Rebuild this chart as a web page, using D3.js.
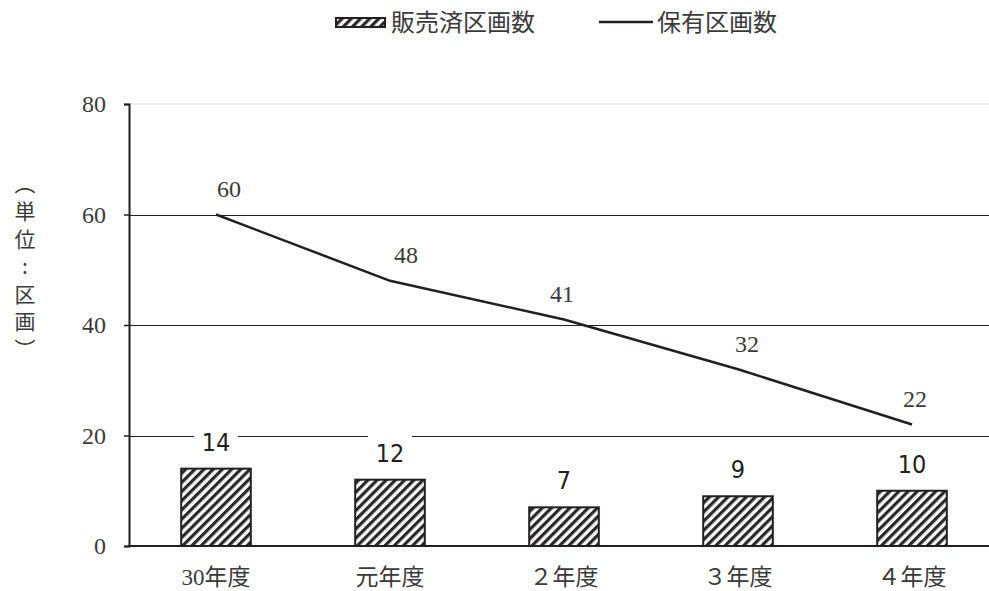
<!DOCTYPE html>
<html lang="ja">

<head>
    <meta charset="UTF-8">
    <title>販売済区画数と保有区画数</title>

    <script src="https://d3js.org/d3.v7.min.js"></script>

    <style>
        body {
            margin: 0;
            background: white;
        }
    </style>

</head>

<body>
    <svg width="989" height="591"></svg>

    <script>
        // data
        const years = ["30年度", "元年度", "２年度", "３年度", "４年度"];
        const soldPlots = [14, 12, 7, 9, 10];
        const heldPlots = [60, 48, 41, 32, 22];
        const yTicks = [0, 20, 40, 60, 80];

        const ink = "#231f20";
        const textCol = "#3a3a3a";
        const serif = "'Liberation Serif', 'Noto Sans CJK JP', serif";
        const gothic = "'Noto Sans CJK JP', sans-serif";
        const narrow = "'DejaVu Sans Condensed', 'Liberation Sans', sans-serif";
        // small nudges of the line labels as in the original
        const lineLabelDx = [13, 16, -2, 9, 3];

        const svg = d3.select("svg");
        const margin = { left: 129, top: 104 };
        const width = 989;

        const x = d3.scaleBand()
            .domain(years)
            .range([margin.left, 999])
            .paddingInner(0.6)
            .paddingOuter(0.3);

        const y = d3.scaleLinear()
            .domain([0, 80])
            .range([546, margin.top]);

        // hatch pattern
        const defs = svg.append("defs");
        const pat = defs.append("pattern")
            .attr("id", "hatch")
            .attr("patternUnits", "userSpaceOnUse")
            .attr("width", 6.5)
            .attr("height", 6.5)
            .attr("patternTransform", "rotate(45)");
        pat.append("rect").attr("width", 6.5).attr("height", 6.5).attr("fill", "white");
        pat.append("rect").attr("width", 3.2).attr("height", 6.5).attr("fill", "#2b2728");

        // gridlines
        svg.append("line")
            .attr("x1", margin.left).attr("x2", width)
            .attr("y1", y(80)).attr("y2", y(80))
            .attr("stroke", "#ddd").attr("stroke-width", 1);

        svg.append("g")
            .selectAll("line")
            .data([20, 40, 60])
            .join("line")
            .attr("x1", margin.left).attr("x2", width)
            .attr("y1", d => Math.round(y(d)) + 0.5)
            .attr("y2", d => Math.round(y(d)) + 0.5)
            .attr("stroke", ink)
            .attr("stroke-width", 1.2);

        // y axis
        const yAxis = svg.append("g")
            .attr("transform", `translate(${margin.left},0)`)
            .call(d3.axisLeft(y).tickValues(yTicks).tickSize(5).tickPadding(18));
        yAxis.attr("font-family", null);
        yAxis.select(".domain").attr("stroke", ink).attr("stroke-width", 2);
        yAxis.selectAll(".tick line").attr("stroke", ink).attr("stroke-width", 1.5);
        yAxis.selectAll(".tick text")
            .attr("fill", textCol)
            .style("font-family", serif)
            .style("font-size", "24px");

        // bars
        svg.append("g")
            .selectAll("rect")
            .data(soldPlots)
            .join("rect")
            .attr("x", (d, i) => x(years[i]))
            .attr("y", d => y(d))
            .attr("width", x.bandwidth())
            .attr("height", d => y(0) - y(d))
            .attr("fill", "url(#hatch)")
            .attr("stroke", ink)
            .attr("stroke-width", 2);

        // bar value labels with white box over the gridline
        const barLab = svg.append("g")
            .selectAll("g")
            .data(soldPlots)
            .join("g")
            .attr("transform", (d, i) => `translate(${x(years[i]) + x.bandwidth() / 2},${y(d) - 27})`);
        barLab.append("rect")
            .attr("x", -22).attr("y", -18)
            .attr("width", 44).attr("height", 36)
            .attr("fill", "white");
        barLab.append("text")
            .attr("text-anchor", "middle")
            .attr("dy", "0.36em")
            .attr("fill", ink)
            .style("font-family", narrow)
            .style("font-size", "25px")
            .text(d => d);

        // x axis baseline
        svg.append("line")
            .attr("x1", margin.left - 1).attr("x2", width)
            .attr("y1", y(0)).attr("y2", y(0))
            .attr("stroke", ink)
            .attr("stroke-width", 2);

        // category labels
        svg.append("g")
            .selectAll("text")
            .data(years)
            .join("text")
            .attr("x", d => x(d) + x.bandwidth() / 2)
            .attr("y", 577)
            .attr("dy", "0.36em")
            .attr("text-anchor", "middle")
            .attr("fill", textCol)
            .style("font-family", serif)
            .style("font-size", "23px")
            .text(d => d);

        // line
        const line = d3.line()
            .x((d, i) => x(years[i]) + x.bandwidth() / 2)
            .y(d => y(d));

        svg.append("path")
            .datum(heldPlots)
            .attr("d", line)
            .attr("fill", "none")
            .attr("stroke", ink)
            .attr("stroke-width", 2.5);

        svg.append("g")
            .selectAll("text")
            .data(heldPlots)
            .join("text")
            .attr("x", (d, i) => x(years[i]) + x.bandwidth() / 2 + lineLabelDx[i])
            .attr("y", d => y(d) - 26)
            .attr("dy", "0.36em")
            .attr("text-anchor", "middle")
            .attr("fill", textCol)
            .style("font-family", serif)
            .style("font-size", "24px")
            .text(d => d);

        // y axis title, one character per line
        const titleChars = Array.from("（単位：区画）");
        const titleY = i => 184 + i * 27.5;
        svg.append("g")
            .selectAll("text")
            .data(titleChars)
            .join("text")
            .attr("x", 25)
            .attr("y", (d, i) => titleY(i))
            .attr("text-anchor", "middle")
            .attr("dy", "0.36em")
            .attr("fill", textCol)
            .attr("transform", (d, i) => (d === "（" || d === "）") ? `rotate(90,25,${titleY(i)})` : null)
            .style("font-family", gothic)
            .style("font-size", "21px")
            .text(d => d === "：" ? ":" : d);

        // legend
        const legend = svg.append("g");
        legend.append("rect")
            .attr("x", 336).attr("y", 18)
            .attr("width", 49).attr("height", 9)
            .attr("fill", "url(#hatch)")
            .attr("stroke", ink)
            .attr("stroke-width", 2);
        legend.append("text")
            .attr("x", 391).attr("y", 22)
            .attr("dy", "0.36em")
            .attr("fill", textCol)
            .style("font-family", gothic)
            .style("font-size", "24px")
            .text("販売済区画数");
        legend.append("line")
            .attr("x1", 599).attr("x2", 653)
            .attr("y1", 22).attr("y2", 22)
            .attr("stroke", ink)
            .attr("stroke-width", 2.5);
        legend.append("text")
            .attr("x", 657).attr("y", 22)
            .attr("dy", "0.36em")
            .attr("fill", textCol)
            .style("font-family", gothic)
            .style("font-size", "24px")
            .text("保有区画数");
    </script>
</body>

</html>
